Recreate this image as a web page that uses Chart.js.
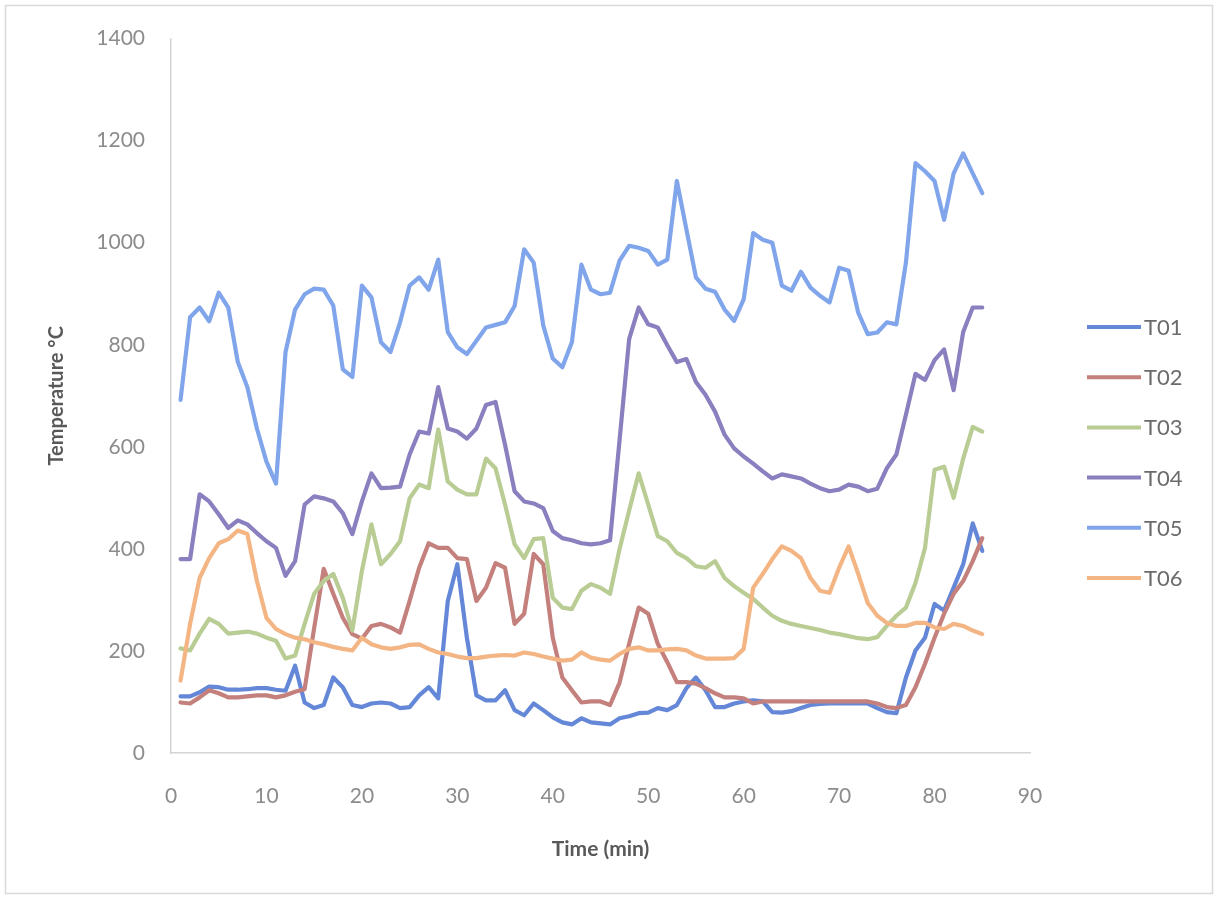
<!DOCTYPE html>
<html>
<head>
<meta charset="utf-8">
<script src="https://cdn.jsdelivr.net/npm/chart.js@4.4.0/dist/chart.umd.min.js"></script>
<style>
  html, body { margin: 0; padding: 0; background: #ffffff; }
  canvas { display: block; }
</style>
</head>
<body>
<canvas id="chart" width="1220" height="899"></canvas>
<script>
// Sampling times (minutes)
const minutes = [1,2,3,4,5,6,7,8,9,10,11,12,13,14,15,16,17,18,19,20,
  21,22,23,24,25,26,27,28,29,30,31,32,33,34,35,36,37,38,39,40,
  41,42,43,44,45,46,47,48,49,50,51,52,53,54,55,56,57,58,59,60,
  61,62,63,64,65,66,67,68,69,70,71,72,73,74,75,76,77,78,79,80,
  81,82,83,84,85];

// Thermocouple readings (°C)
const t01 = [111,111,119,130,129,124,124,125,127,127,124,122,171,99,88,94,148,129,94,90,
  97,99,97,88,90,113,129,107,298,370,226,113,103,103,123,84,74,97,84,70,
  60,56,68,60,58,56,68,72,78,79,88,84,94,127,148,123,90,90,97,101,
  103,101,80,79,82,88,94,96,97,97,97,97,97,88,80,78,148,201,226,292,
  279,324,370,450,396];
const t02 = [99,97,109,123,117,109,109,111,113,113,109,113,120,125,245,361,312,265,233,224,
  249,253,246,236,298,363,411,402,402,382,380,298,324,372,363,253,273,390,370,226,
  148,123,99,101,101,94,138,214,285,273,214,178,139,139,136,127,117,109,109,107,
  97,101,101,101,101,101,101,101,101,101,101,101,101,97,90,88,94,129,175,226,
  273,312,337,376,421];
const t03 = [205,201,234,263,253,234,236,238,234,226,220,185,191,253,312,337,351,304,240,357,
  448,370,390,415,499,526,519,634,532,516,507,507,577,558,487,409,382,419,421,304,
  285,282,318,331,324,312,400,475,548,487,425,415,392,382,366,363,376,343,327,314,
  302,285,269,259,253,249,245,241,236,233,229,225,223,227,249,269,285,333,402,555,
  561,500,577,639,630];
const t04 = [380,380,507,493,468,441,456,448,431,415,402,347,376,487,503,499,493,470,429,493,
  548,519,520,522,585,630,626,717,636,630,616,636,682,688,604,513,493,489,480,435,
  421,417,411,409,411,417,614,811,873,840,834,799,766,772,727,702,669,624,597,581,
  567,552,538,546,542,538,528,519,513,516,526,522,513,518,558,585,663,743,731,770,
  791,711,825,873,873];
const t05 = [692,854,873,846,902,873,766,717,636,571,528,786,869,899,910,908,877,752,737,916,
  893,805,786,844,916,932,908,967,825,795,782,808,834,839,844,876,987,961,838,773,
  756,805,957,908,899,902,965,994,990,984,957,967,1121,1026,932,910,904,869,847,889,
  1019,1006,1000,916,906,943,912,896,883,951,945,863,821,824,844,840,961,1156,1140,1121,
  1045,1136,1175,1136,1097];
const t06 = [142,253,343,382,411,419,436,429,337,265,243,233,226,223,217,213,208,204,201,226,
  213,207,204,207,212,213,204,197,194,189,186,186,189,191,192,191,197,194,189,185,
  181,183,197,187,183,181,194,204,207,201,201,203,204,201,191,185,185,185,186,204,
  324,351,380,405,396,382,343,318,314,363,405,351,294,269,255,249,249,255,255,246,
  243,253,249,240,233];

const seriesNames = ['T01', 'T02', 'T03', 'T04', 'T05', 'T06'];
const seriesValues = [t01, t02, t03, t04, t05, t06];
const seriesColors = ['#6487d8', '#c4807c', '#b8cc94', '#8a80c0', '#80a5ea', '#f4b584'];

const xTicks = [0, 10, 20, 30, 40, 50, 60, 70, 80, 90];
const yTicks = [0, 200, 400, 600, 800, 1000, 1200, 1400];

const FONT = 'Lato, "Open Sans", "DejaVu Sans", sans-serif';

// White page with a thin grey frame
const pageFrame = {
  id: 'pageFrame',
  beforeDraw(chart) {
    const { ctx, width, height } = chart;
    ctx.save();
    ctx.fillStyle = '#ffffff';
    ctx.fillRect(0, 0, width, height);
    ctx.strokeStyle = '#d9d9d9';
    ctx.lineWidth = 1.5;
    ctx.strokeRect(5.5, 5.5, 1207, 888);
    ctx.restore();
  }
};

// Legend column to the right of the plot
const sideLegend = {
  id: 'sideLegend',
  afterDraw(chart) {
    const { ctx } = chart;
    ctx.save();
    ctx.font = '22px ' + FONT;
    ctx.textBaseline = 'middle';
    ctx.textAlign = 'left';
    chart.data.datasets.forEach((ds, i) => {
      const y = 327 + i * 50.2;
      ctx.strokeStyle = ds.borderColor;
      ctx.lineWidth = 4;
      ctx.lineCap = 'butt';
      ctx.beginPath();
      ctx.moveTo(1087, y);
      ctx.lineTo(1141, y);
      ctx.stroke();
      ctx.fillStyle = '#6b6b6b';
      ctx.fillText(ds.label, 1144, y + 1);
    });
    ctx.restore();
  }
};

const datasets = seriesNames.map((name, i) => ({
  label: name,
  data: seriesValues[i].map((v, k) => ({ x: minutes[k], y: v })),
  borderColor: seriesColors[i],
  backgroundColor: seriesColors[i],
  borderWidth: 4.2,
  borderJoinStyle: 'round',
  borderCapStyle: 'round',
  pointRadius: 0,
  tension: 0,
  fill: false,
  order: seriesNames.length - i
}));

new Chart(document.getElementById('chart'), {
  type: 'line',
  data: { datasets },
  plugins: [pageFrame, sideLegend],
  options: {
    responsive: false,
    animation: false,
    devicePixelRatio: 1,
    layout: { padding: { top: 31, right: 190, bottom: 0, left: 0 } },
    plugins: {
      legend: { display: false },
      tooltip: { enabled: false }
    },
    scales: {
      x: {
        type: 'linear',
        min: xTicks[0],
        max: xTicks[xTicks.length - 1],
        afterBuildTicks(scale) { scale.ticks = xTicks.map(v => ({ value: v })); },
        afterFit(scale) { scale.height = 146; },
        ticks: {
          padding: 31,
          color: '#8c8c8c',
          font: { family: FONT, size: 21 },
          callback: v => String(v)
        },
        grid: { display: false, drawTicks: false },
        border: { display: true, color: '#d4d4d4', width: 1.5 },
        title: {
          display: true,
          text: 'Time (min)',
          color: '#595959',
          font: { family: FONT, size: 21, weight: 'bold' },
          padding: { top: 0, bottom: 37 }
        }
      },
      y: {
        type: 'linear',
        min: yTicks[0],
        max: yTicks[yTicks.length - 1],
        afterBuildTicks(scale) { scale.ticks = yTicks.map(v => ({ value: v })); },
        afterFit(scale) { scale.width = 171; },
        ticks: {
          padding: 26,
          color: '#8c8c8c',
          font: { family: FONT, size: 21 },
          callback: v => String(v)
        },
        grid: { display: false, drawTicks: false },
        border: { display: true, color: '#d4d4d4', width: 1.5 },
        title: {
          display: true,
          text: 'Temperature °C',
          color: '#595959',
          font: { family: FONT, size: 20, weight: 'bold' },
          padding: { top: 45, bottom: 0 }
        }
      }
    }
  }
});
</script>
</body>
</html>
